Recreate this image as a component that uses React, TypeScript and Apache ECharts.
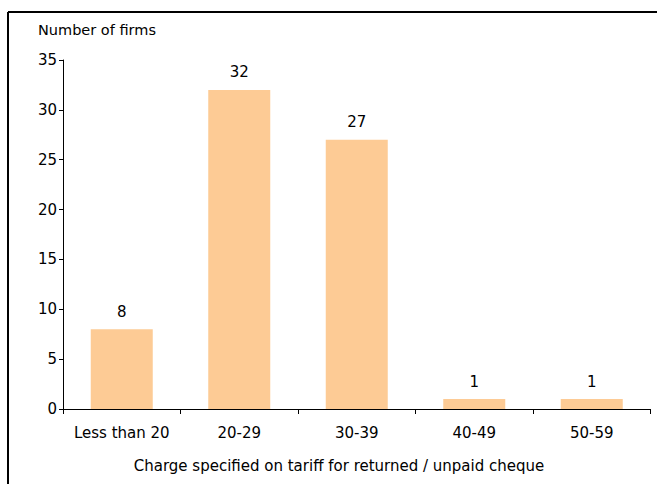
import React, { useEffect, useRef } from "react";
import * as echarts from "echarts";

const categories = ["Less than 20", "20-29", "30-39", "40-49", "50-59"];
const firms = [8, 32, 27, 1, 1];
const yTicks = [0, 5, 10, 15, 20, 25, 30, 35];
const yAxisTitle = "Number of firms";
const xAxisTitle = "Charge specified on tariff for returned / unpaid cheque";

const FONT = "DejaVu Sans";

export default function App() {
  const ref = useRef<HTMLDivElement>(null);
  useEffect(() => {
    if (!ref.current) return;
    const chart = echarts.init(ref.current, undefined, { renderer: "svg" });
    chart.setOption({
      animation: false,
      backgroundColor: "#ffffff",
      grid: { left: 63, right: 6.5, top: 60, bottom: 75, containLabel: false },
      xAxis: {
        type: "category",
        data: categories,
        axisLine: { show: true, lineStyle: { color: "#000", width: 1 } },
        axisTick: { show: true, interval: 0, alignWithLabel: false, length: 5, lineStyle: { color: "#000" } },
        axisLabel: { color: "#000", fontFamily: FONT, fontSize: 15, margin: 16, interval: 0, hideOverlap: false },
        splitLine: { show: false },
      },
      yAxis: {
        type: "value",
        min: yTicks[0],
        max: yTicks[yTicks.length - 1],
        interval: 5,
        axisLine: { show: true, lineStyle: { color: "#000", width: 1 } },
        axisTick: { show: true, length: 4, lineStyle: { color: "#000" } },
        axisLabel: { color: "#000", fontFamily: FONT, fontSize: 15, margin: 6 },
        splitLine: { show: false },
      },
      series: [
        {
          type: "bar",
          data: firms,
          barWidth: 62,
          itemStyle: { color: "#FDCB95" },
          label: {
            show: true,
            position: "top",
            distance: 10,
            color: "#000",
            fontFamily: FONT,
            fontSize: 15,
          },
        },
      ],
      graphic: [
        {
          type: "line",
          shape: { x1: 8, y1: 12, x2: 657, y2: 12 },
          style: { stroke: "#000", lineWidth: 2 },
        },
        {
          type: "line",
          shape: { x1: 8, y1: 12, x2: 8, y2: 484 },
          style: { stroke: "#000", lineWidth: 2 },
        },
        {
          type: "text",
          x: 38,
          y: 30,
          style: {
            text: yAxisTitle,
            fill: "#000",
            font: `14.5px "${FONT}"`,
            textAlign: "left",
            textVerticalAlign: "middle",
          },
        },
        {
          type: "text",
          x: 339,
          y: 466,
          style: {
            text: xAxisTitle,
            fill: "#000",
            font: `15px "${FONT}"`,
            textAlign: "center",
            textVerticalAlign: "middle",
          },
        },
      ],
    });
    return () => chart.dispose();
  }, []);
  return <div ref={ref} style={{ width: 657, height: 484, position: "absolute", left: 0, top: 0 }} />;
}
